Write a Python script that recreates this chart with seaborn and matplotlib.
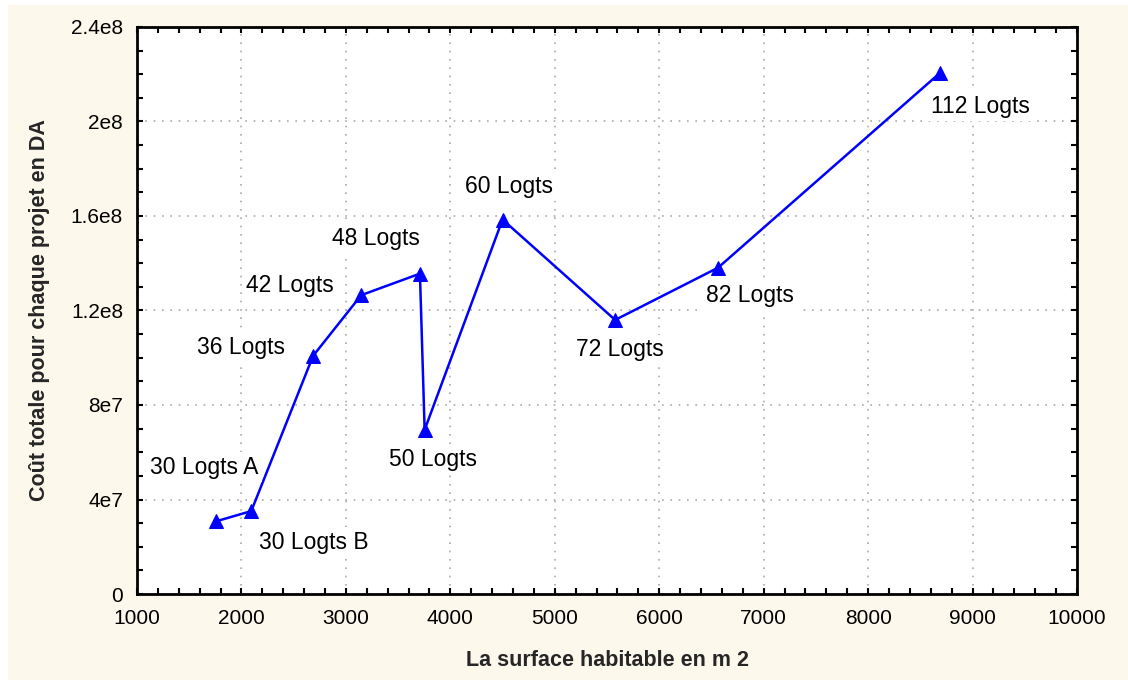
import matplotlib
matplotlib.use("Agg")
import matplotlib.pyplot as plt
import seaborn as sns
import pandas as pd
from matplotlib.patches import Rectangle
from matplotlib.ticker import FixedLocator, FixedFormatter, MultipleLocator

# ---- data ----
labels = ["30 Logts A", "30 Logts B", "36 Logts", "42 Logts", "48 Logts",
          "50 Logts", "60 Logts", "72 Logts", "82 Logts", "112 Logts"]
surface = [1760, 2094, 2686, 3147, 3709, 3754, 4500, 5578, 6563, 8684]
cout = [3.08e7, 3.51e7, 1.008e8, 1.265e8, 1.356e8, 6.95e7, 1.585e8, 1.160e8, 1.381e8, 2.204e8]

x_ticks = [1000, 2000, 3000, 4000, 5000, 6000, 7000, 8000, 9000, 10000]
x_tick_labels = ["1000", "2000", "3000", "4000", "5000", "6000", "7000", "8000", "9000", "10000"]
y_ticks = [0, 4e7, 8e7, 1.2e8, 1.6e8, 2e8, 2.4e8]
y_tick_labels = ["0", "4e7", "8e7", "1.2e8", "1.6e8", "2e8", "2.4e8"]

# label offsets (pixels) relative to each point
offsets = [(-12, 54), (63, -31), (-72, 8), (-71, 10), (-44, 35),
           (8, -30), (6, 33), (5, -30), (32, -28), (41, -33)]

df = pd.DataFrame({"surface": surface, "cout": cout, "label": labels})

sns.set_theme(style="white")
plt.rcParams["font.family"] = ["Liberation Sans", "DejaVu Sans"]

W, H = 1128, 680
fig = plt.figure(figsize=(W / 100, H / 100), dpi=100, facecolor="white")
fig.patches.append(Rectangle((8 / W, 0), 1 - 8 / W, 1 - 5 / H, transform=fig.transFigure,
                             facecolor="#FDF8EC", edgecolor="none", zorder=-10))

l, r, t, b = 137, 1077, 27, 594
ax = fig.add_axes([l / W, 1 - b / H, (r - l) / W, (b - t) / H])
ax.set_facecolor("white")

sns.lineplot(data=df, x="surface", y="cout", sort=False, ax=ax, color="#0000FF",
             linewidth=1.8, marker="^", markersize=10, markeredgecolor="#0000FF",
             markerfacecolor="#0000FF", zorder=3)

for lab, xv, yv, off in zip(labels, surface, cout, offsets):
    ax.annotate(lab, (xv, yv), xytext=off, textcoords="offset pixels",
                ha="center", va="center", fontsize=16.5, color="black", zorder=4,
                bbox=dict(boxstyle="square,pad=0.15", facecolor="white", edgecolor="none"))

ax.set_xlim(1000, 10000)
ax.set_ylim(0, 2.4e8)
ax.xaxis.set_major_locator(FixedLocator(x_ticks))
ax.xaxis.set_major_formatter(FixedFormatter(x_tick_labels))
ax.yaxis.set_major_locator(FixedLocator(y_ticks))
ax.yaxis.set_major_formatter(FixedFormatter(y_tick_labels))
ax.xaxis.set_minor_locator(MultipleLocator(200))
ax.yaxis.set_minor_locator(MultipleLocator(1e7))

ax.tick_params(which="both", direction="in", top=True, right=True, bottom=True, left=True,
               length=4, width=1.5, color="black", labelsize=15, labelcolor="black")
ax.tick_params(axis="x", which="major", pad=11)
ax.tick_params(axis="y", which="major", pad=10)

ax.grid(True, which="major", linestyle=(0, (1, 4)), color="#AAAAAA", linewidth=1.2)
for s in ax.spines.values():
    s.set_visible(True)
    s.set_color("black")
    s.set_linewidth(2)

ax.set_xlabel("La surface habitable en m 2", fontsize=15.5, fontweight="bold", labelpad=16)
ax.set_ylabel("Coût totale pour chaque projet en DA", fontsize=15.5, fontweight="bold", labelpad=15)

fig.savefig("out.png", dpi=100, facecolor=fig.get_facecolor())
